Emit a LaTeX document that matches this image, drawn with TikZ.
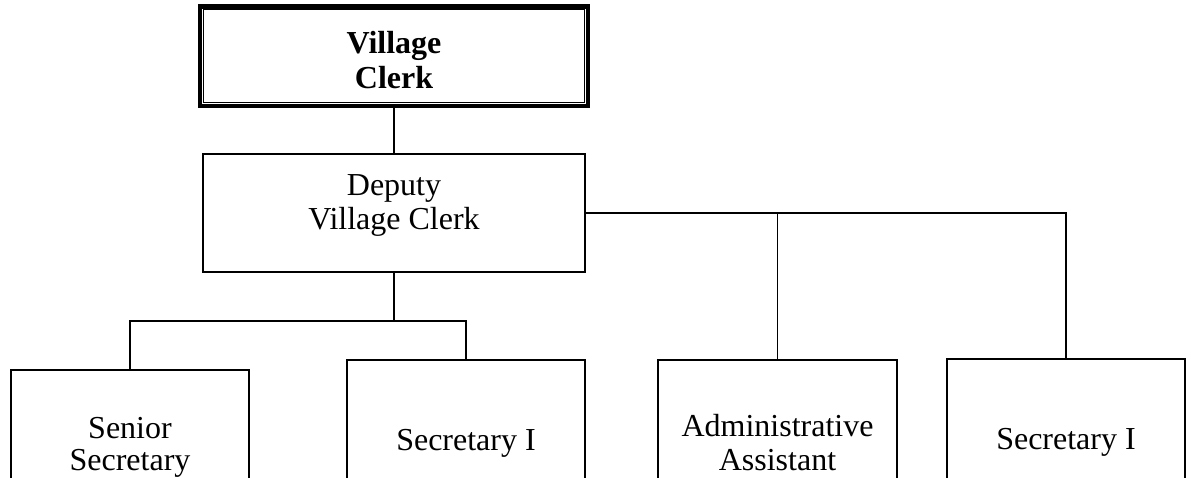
\documentclass[tikz,border=0pt]{standalone}
\usepackage{fontspec}
\setmainfont{Liberation Serif}
\usetikzlibrary{positioning}

\begin{document}
\begin{tikzpicture}[x=1pt, y=-1pt,
  post/.style={draw, line width=1.7pt, inner sep=0pt},
  head/.style={post, line width=4.4pt, minimum width=387.5pt, minimum height=99.3pt},
  mid/.style={post, minimum width=382.3pt, minimum height=118.3pt},
  staff/.style={post, anchor=north, minimum width=238.5pt},
  txt/.style={align=center, inner sep=0pt, font=\fontsize{32}{34}\selectfont},
  boldtxt/.style={txt, font=\fontsize{32}{35}\selectfont\bfseries},
  link/.style={line width=1.7pt}
]
\useasboundingbox (0,0) rectangle (1192,478);
% Boxes
\node[head, label={[boldtxt, yshift=-4pt]center:{Village\\Clerk}}] (clerk) at (394,56.3) {};
\draw[line width=1.2pt] ([xshift=5.8pt,yshift=-5.4pt]clerk.north west) rectangle ([xshift=-5.8pt,yshift=5.4pt]clerk.south east);
\node[mid, label={[txt, yshift=8pt]center:{Deputy\\Village Clerk}}] (deputy) at (394,213) {};
\node[staff, minimum height=109.3pt, label={[txt, font=\fontsize{32}{32}\selectfont, yshift=-23.5pt]center:{Senior\\Secretary}}] (senior) at (130,368.85) {};
\node[staff, minimum height=119.3pt, label={[txt, yshift=-24.5pt]center:{Secretary I}}] (secA) at (466,358.85) {};
\node[staff, minimum height=119.3pt, label={[txt, yshift=-23pt]center:{Administrative\\Assistant}}] (admin) at (777.5,358.85) {};
\node[staff, minimum height=120.3pt, label={[txt, yshift=-24pt]center:{Secretary I}}] (secB) at (1066,357.85) {};
% Connectors
\coordinate (split) at (394,321);
\draw[link] (clerk) -- (deputy);
\draw[link] (deputy) -- (split);
\draw[link] (senior.north) |- (split) -| (secA.north);
\draw[link] (deputy.east) -| (secB.north);
\draw[link] (admin.north) -- (admin.north |- deputy.east);
\end{tikzpicture}
\end{document}
